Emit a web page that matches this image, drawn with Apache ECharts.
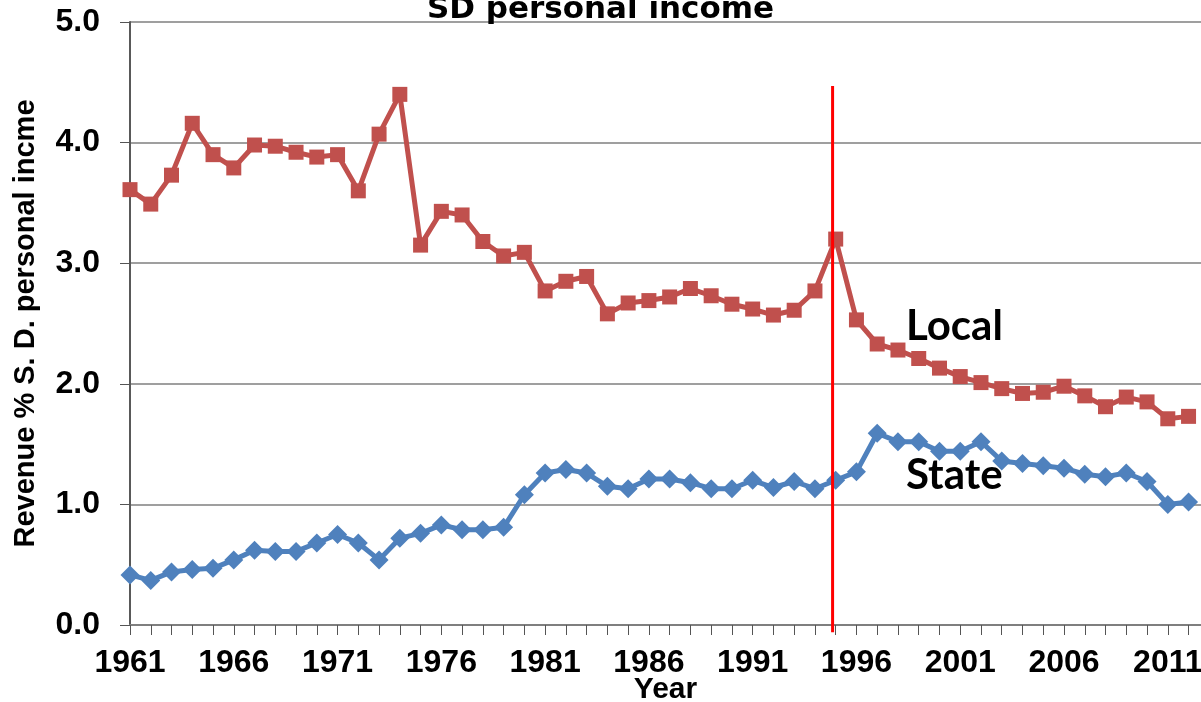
<!DOCTYPE html>
<html>
<head>
<meta charset="utf-8">
<script src="https://cdn.jsdelivr.net/npm/echarts@6/dist/echarts.min.js"></script>
<style>
html,body{margin:0;padding:0;background:#fff;}
#chart{width:1201px;height:702px;}
</style>
</head>
<body>
<div id="chart"></div>
<script>
// ---- data ----
const years = [1961,1962,1963,1964,1965,1966,1967,1968,1969,1970,1971,1972,1973,1974,1975,1976,1977,1978,1979,1980,
  1981,1982,1983,1984,1985,1986,1987,1988,1989,1990,1991,1992,1993,1994,1995,1996,1997,1998,1999,2000,
  2001,2002,2003,2004,2005,2006,2007,2008,2009,2010,2011,2012];
const localValues = [3.61,3.49,3.73,4.16,3.90,3.79,3.98,3.97,3.92,3.88,3.90,3.60,4.07,4.40,3.15,3.43,3.40,3.18,3.06,3.09,
  2.77,2.85,2.89,2.58,2.67,2.69,2.72,2.79,2.73,2.66,2.62,2.57,2.61,2.77,3.20,2.53,2.33,2.28,2.21,2.13,
  2.06,2.01,1.96,1.92,1.93,1.98,1.90,1.81,1.89,1.85,1.71,1.73];
const stateValues = [0.415,0.37,0.44,0.46,0.47,0.54,0.62,0.61,0.61,0.68,0.75,0.68,0.54,0.72,0.76,0.83,0.79,0.79,0.81,1.08,
  1.26,1.29,1.26,1.15,1.13,1.21,1.21,1.18,1.13,1.13,1.20,1.14,1.19,1.13,1.20,1.27,1.59,1.52,1.52,1.44,
  1.44,1.52,1.36,1.34,1.32,1.30,1.25,1.23,1.26,1.19,1.00,1.02];
const yearLabels = [1961,1966,1971,1976,1981,1986,1991,1996,2001,2006,2011];
const markerYear = 1994.85;
const markerRange = [4.47, -0.06];
const titleText = 'SD personal income';
const yName = 'Revenue % S. D. personal incme';
const xName = 'Year';

const chart = echarts.init(document.getElementById('chart'), null, {renderer:'canvas'});
const pair = (xs, ys) => xs.map((x,i)=>[x, ys[i]]);

const option = {
  animation:false,
  backgroundColor:'#ffffff',
  title:{
    text:titleText, left:'center', top:-11,
    textStyle:{fontFamily:'DejaVu Sans', fontWeight:'bold', fontSize:31, color:'#000'}
  },
  grid:{left:130, right:0, top:22, bottom:77, containLabel:false, outerBoundsMode:'none'},
  xAxis:{
    type:'value', min:1961, max:2012.6,
    name:xName, nameLocation:'middle', nameGap:50, nameMoveOverlap:false,
    nameTextStyle:{fontFamily:'Liberation Sans', fontWeight:'bold', fontSize:30, color:'#000'},
    axisLine:{show:true, onZero:false, lineStyle:{color:'#7f7f7f', width:2}},
    axisTick:{show:true, length:10, customValues:years, lineStyle:{color:'#555', width:1}},
    axisLabel:{customValues:yearLabels, margin:22, fontFamily:'Liberation Sans', fontWeight:'bold', fontSize:32, color:'#000',
      hideOverlap:false, formatter:v=>String(v)},
    splitLine:{show:false}
  },
  yAxis:{
    type:'value', min:0, max:5, interval:1,
    name:yName, nameLocation:'middle', nameGap:90, nameRotate:90, nameMoveOverlap:false,
    nameTextStyle:{fontFamily:'Liberation Sans', fontWeight:'bold', fontSize:29, color:'#000'},
    axisLine:{show:true, lineStyle:{color:'#595959', width:2}},
    axisTick:{show:true, length:10, lineStyle:{color:'#555', width:1}},
    axisLabel:{margin:30, fontFamily:'Liberation Sans', fontWeight:'bold', fontSize:32, color:'#000',
      formatter:v=>v.toFixed(1)},
    splitLine:{show:true, lineStyle:{color:'#7f7f7f', width:1.5}}
  },
  series:[
    {
      name:'Local', type:'line', data:pair(years, localValues),
      symbol:'rect', symbolSize:15,
      lineStyle:{color:'#C0504D', width:5},
      itemStyle:{color:'#C0504D'}, z:3
    },
    {
      name:'State', type:'line', data:pair(years, stateValues),
      symbol:'diamond', symbolSize:19,
      lineStyle:{color:'#4F81BD', width:5},
      itemStyle:{color:'#4F81BD'}, z:3
    },
    {
      name:'marker', type:'line', data:[[markerYear, markerRange[0]],[markerYear, markerRange[1]]],
      symbol:'none', clip:false, silent:true,
      lineStyle:{color:'#FF0000', width:3}, z:5
    }
  ],
  graphic:[
    {type:'text', left:906, top:305, style:{text:'Local', font:'bold 42px Lato', fill:'#000'}},
    {type:'text', left:906, top:454, style:{text:'State', font:'bold 42px Lato', fill:'#000'}}
  ]
};
chart.setOption(option);
</script>
</body>
</html>
